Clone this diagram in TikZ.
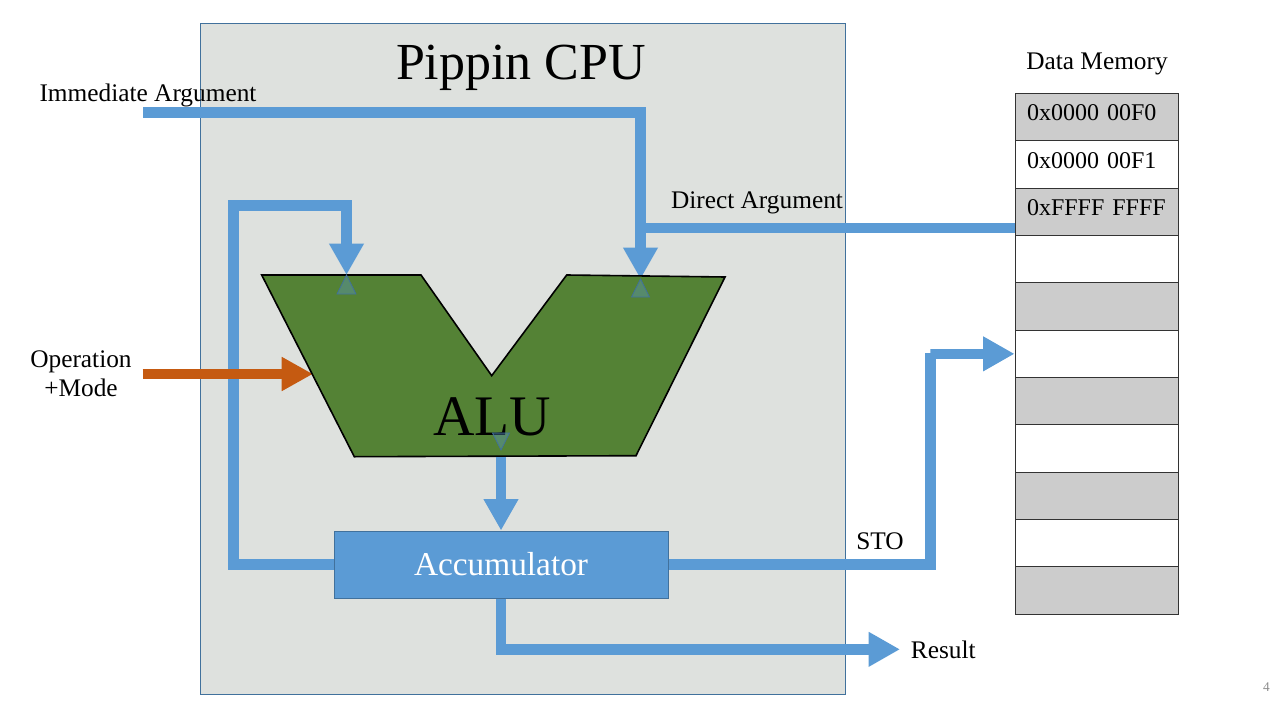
\documentclass[tikz,border=0pt]{standalone}
\usepackage{fontspec}
\setmainfont{Liberation Serif}
\usetikzlibrary{arrows.meta,calc}
\definecolor{cpuGrey}{RGB}{222,225,222}
\definecolor{cpuEdge}{RGB}{65,113,156}
\definecolor{busBlue}{RGB}{91,155,213}
\definecolor{aluGreen}{RGB}{84,130,53}
\definecolor{opOrange}{RGB}{197,90,17}
\definecolor{memGrey}{RGB}{204,204,204}

\begin{document}
\begin{tikzpicture}[x=0.75pt, y=-0.75pt,
  txt/.style={font=\fontsize{19}{22}\selectfont},
  bus/.style={draw=busBlue, line width=8pt},
  busTip/.style={-{Triangle[width=24.5pt,length=23.5pt]}},
  opTip/.style={draw=opOrange, line width=8pt, -{Triangle[width=24pt,length=23.5pt]}},
  stub/.style={draw=cpuEdge, fill=busBlue, fill opacity=0.35, line width=0.6pt},
  memCell/.style={draw=black!80, line width=0.75pt, minimum height=35.5pt, inner xsep=9pt,
    text width=104.25pt, align=left, text height=12.75pt, text depth=7.5pt, font=\fontsize{18}{22}\selectfont}]
\useasboundingbox (0,0) rectangle (1280,720);

% CPU box
\node[draw=cpuEdge, fill=cpuGrey, line width=0.75pt, minimum width=483.75pt, minimum height=502.5pt] (CPU) at (522.5,359) {};
\node[font=\fontsize{39}{46}\selectfont, anchor=base] (CPUtitle) at (521,80) {Pippin CPU};

% data memory
\node[txt, anchor=base] (DataMemory) at (1097,70) {Data Memory};
\foreach \i/\shade/\addr in {0/memGrey/0x0000~00F0, 1/white/0x0000~00F1, 2/memGrey/0xFFFF~FFFF,
    3/white/, 4/memGrey/, 5/white/, 6/memGrey/, 7/white/, 8/memGrey/, 9/white/, 10/memGrey/}
  \node[memCell, fill=\shade] (cell\i) at (1096.5,{117.35+47.3*\i}) {\addr};

% labels
\node[txt, anchor=base] (Immediate) at (148,102) {Immediate Argument};
\node[txt, anchor=base] (Direct) at (757,209) {Direct Argument};
\node[txt, align=center, inner xsep=8pt] (Operation) at (81,374) {Operation\\+Mode};
\node[txt, anchor=base] (STO) at (880,549) {STO};
\node[txt, anchor=base west, inner xsep=8pt] (Result) at (900,658) {Result};
\node[text=black!45, font=\fontsize{10}{12}\selectfont, anchor=base] (PageNo) at (1266.5,691) {4};

% accumulator
\node[draw=cpuEdge, fill=busBlue, line width=0.75pt, minimum width=250.5pt, minimum height=50.25pt,
  text=white, font=\fontsize{25}{30}\selectfont] (Accumulator) at (501,564.5) {Accumulator};

\coordinate (ImmStart) at (143,112.5);
\coordinate (LoopTop) at (233.5,205.5);
\coordinate (ALUinA) at (346.5,275);
\coordinate (ALUinB) at (640.5,279);
\coordinate (ALUinOp) at (313,374);
\coordinate (ALUout) at (501,450);
\coordinate (StoTurn) at (930.5,353);

% buses
\draw[bus, busTip] (ALUout) -- (Accumulator.north);
\draw[bus, busTip] (ImmStart) -| (ALUinB);
\draw[bus] ($(cell2.west)+(0,16)$) coordinate (DirIn) -- (DirIn -| ALUinB);
\draw[bus, busTip] (Accumulator.west) -| (LoopTop) -| (ALUinA);
\draw[bus, busTip] (Accumulator.east) -| (StoTurn) |- (cell5.west);
\draw[bus, busTip] (Accumulator.south) |- (Result.west);
\draw[opTip] (Operation.east) -- (ALUinOp);

% ALU
\draw[fill=aluGreen, line width=1.2pt] (261.7,275) -- (421,275) -- (491.7,375.7) -- (566.7,275)
  -- (725,277) -- (636,455.7) -- (354.3,456.7) -- cycle;
\node[font=\fontsize{43}{50}\selectfont, anchor=base] (ALU) at (492,435) {ALU};

\draw[stub] (ALUinA) -- ++(-9.5,19) -- ++(19,0) -- cycle;
\draw[stub] (ALUinB) -- ++(-9,18) -- ++(18,0) -- cycle;
\draw[stub] (ALUout) -- ++(-8.5,-17) -- ++(17,0) -- cycle;

\end{tikzpicture}
\end{document}
